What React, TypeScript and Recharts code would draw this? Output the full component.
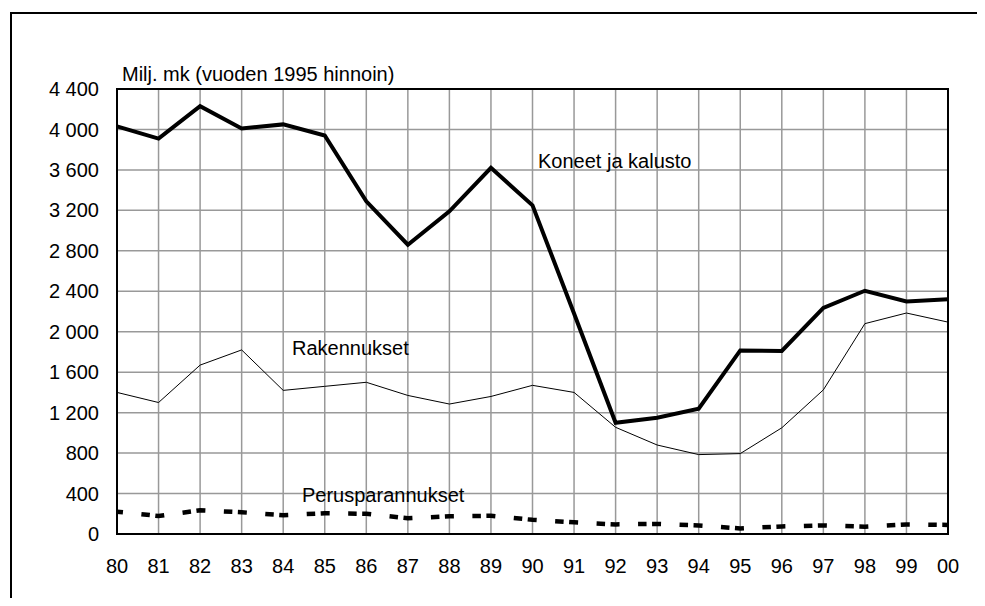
import React from 'react';
import { LineChart, Line, XAxis, YAxis, CartesianGrid, ReferenceArea } from 'recharts';

const years = ['80', '81', '82', '83', '84', '85', '86', '87', '88', '89', '90', '91', '92', '93', '94', '95', '96', '97', '98', '99', '00'];
const koneet = [4030, 3910, 4230, 4010, 4050, 3940, 3290, 2860, 3190, 3620, 3250, 2180, 1100, 1150, 1240, 1815, 1810, 2235, 2405, 2300, 2320];
const rakennukset = [1400, 1300, 1670, 1820, 1420, 1460, 1500, 1370, 1285, 1360, 1470, 1400, 1055, 880, 785, 795, 1050, 1425, 2080, 2185, 2095];
const perusparannukset = [220, 178, 235, 215, 186, 205, 200, 155, 175, 180, 140, 115, 95, 100, 85, 55, 75, 85, 72, 95, 90];

const yTicks = [0, 400, 800, 1200, 1600, 2000, 2400, 2800, 3200, 3600, 4000, 4400];
const smallTicks = [0, 200, 400, 600, 800, 1000, 1200, 1400, 1600, 1800, 2000, 2200, 2400, 2600, 2800, 3000, 3200, 3400, 3600, 3800, 4000, 4200, 4400];

const unitTitle = 'Milj. mk (vuoden 1995 hinnoin)';
const seriesLabels = [
  { text: 'Koneet ja kalusto', x: 538, y: 168 },
  { text: 'Rakennukset', x: 292, y: 355 },
  { text: 'Perusparannukset', x: 302, y: 502 },
];

const data = years.map((year, i) => ({
  year,
  koneet: koneet[i],
  rakennukset: rakennukset[i],
  perus: perusparannukset[i],
}));

const FONT = '"Liberation Sans", Arial, sans-serif';

const fmt = (v: number) => {
  const s = String(v);
  if (s.length > 3) return s.slice(0, s.length - 3) + '\u00a0' + s.slice(s.length - 3);
  return s;
};

const Empty = () => <g />;

export default function App() {
  return (
    <div style={{ margin: -8, width: 985, height: 606, position: 'relative', overflow: 'hidden', background: '#fff' }}>
      <LineChart
        width={985}
        height={606}
        data={data}
        margin={{ top: 89, right: 37, bottom: 32, left: 0 }}
      >
        <CartesianGrid stroke="#999" strokeWidth={1.5} />
        <XAxis
          dataKey="year"
          height={40}
          axisLine={false}
          tickLine={false}
          tickSize={0}
          tickMargin={25}
          interval={0}
          tick={{ fill: '#000', fontSize: 20, fontFamily: FONT }}
        />
        <XAxis
          xAxisId="inner"
          dataKey="year"
          height={0}
          mirror
          axisLine={false}
          tickSize={4}
          interval={0}
          tickLine={{ stroke: '#000', strokeWidth: 1.5 }}
          tick={Empty}
        />
        <YAxis
          width={117}
          domain={[0, 4400]}
          ticks={yTicks}
          interval={0}
          axisLine={false}
          tickLine={false}
          tickSize={0}
          tickMargin={18}
          tickFormatter={fmt}
          tick={{ fill: '#000', fontSize: 20, fontFamily: FONT }}
        />
        <YAxis
          yAxisId="inner"
          width={0}
          mirror
          domain={[0, 4400]}
          ticks={smallTicks}
          interval={0}
          axisLine={false}
          tickSize={4}
          tickLine={{ stroke: '#000', strokeWidth: 1.5 }}
          tick={Empty}
        />
        <ReferenceArea x1="80" x2="00" y1={0} y2={4400} fill="none" fillOpacity={0} stroke="#000" strokeWidth={2} />
        <Line
          dataKey="rakennukset"
          stroke="#000"
          strokeWidth={1}
          dot={false}
          isAnimationActive={false}
        />
        <Line
          dataKey="perus"
          stroke="#000"
          strokeWidth={4.5}
          strokeDasharray="9 18.5 8.5 5.5"
          strokeDashoffset={3}
          dot={false}
          isAnimationActive={false}
        />
        <Line
          dataKey="koneet"
          stroke="#000"
          strokeWidth={4}
          dot={false}
          isAnimationActive={false}
        />
      </LineChart>
      <svg width={985} height={606} style={{ position: 'absolute', left: 0, top: 0, pointerEvents: 'none' }}>
        <path d="M11 620 L11 13 L1000 13" fill="none" stroke="#000" strokeWidth={2} />
        <text x={122} y={81} fontSize={20} fontFamily={FONT} fill="#000">{unitTitle}</text>
        {seriesLabels.map((l) => (
          <text key={l.text} x={l.x} y={l.y} fontSize={20} fontFamily={FONT} fill="#000">{l.text}</text>
        ))}
      </svg>
    </div>
  );
}
